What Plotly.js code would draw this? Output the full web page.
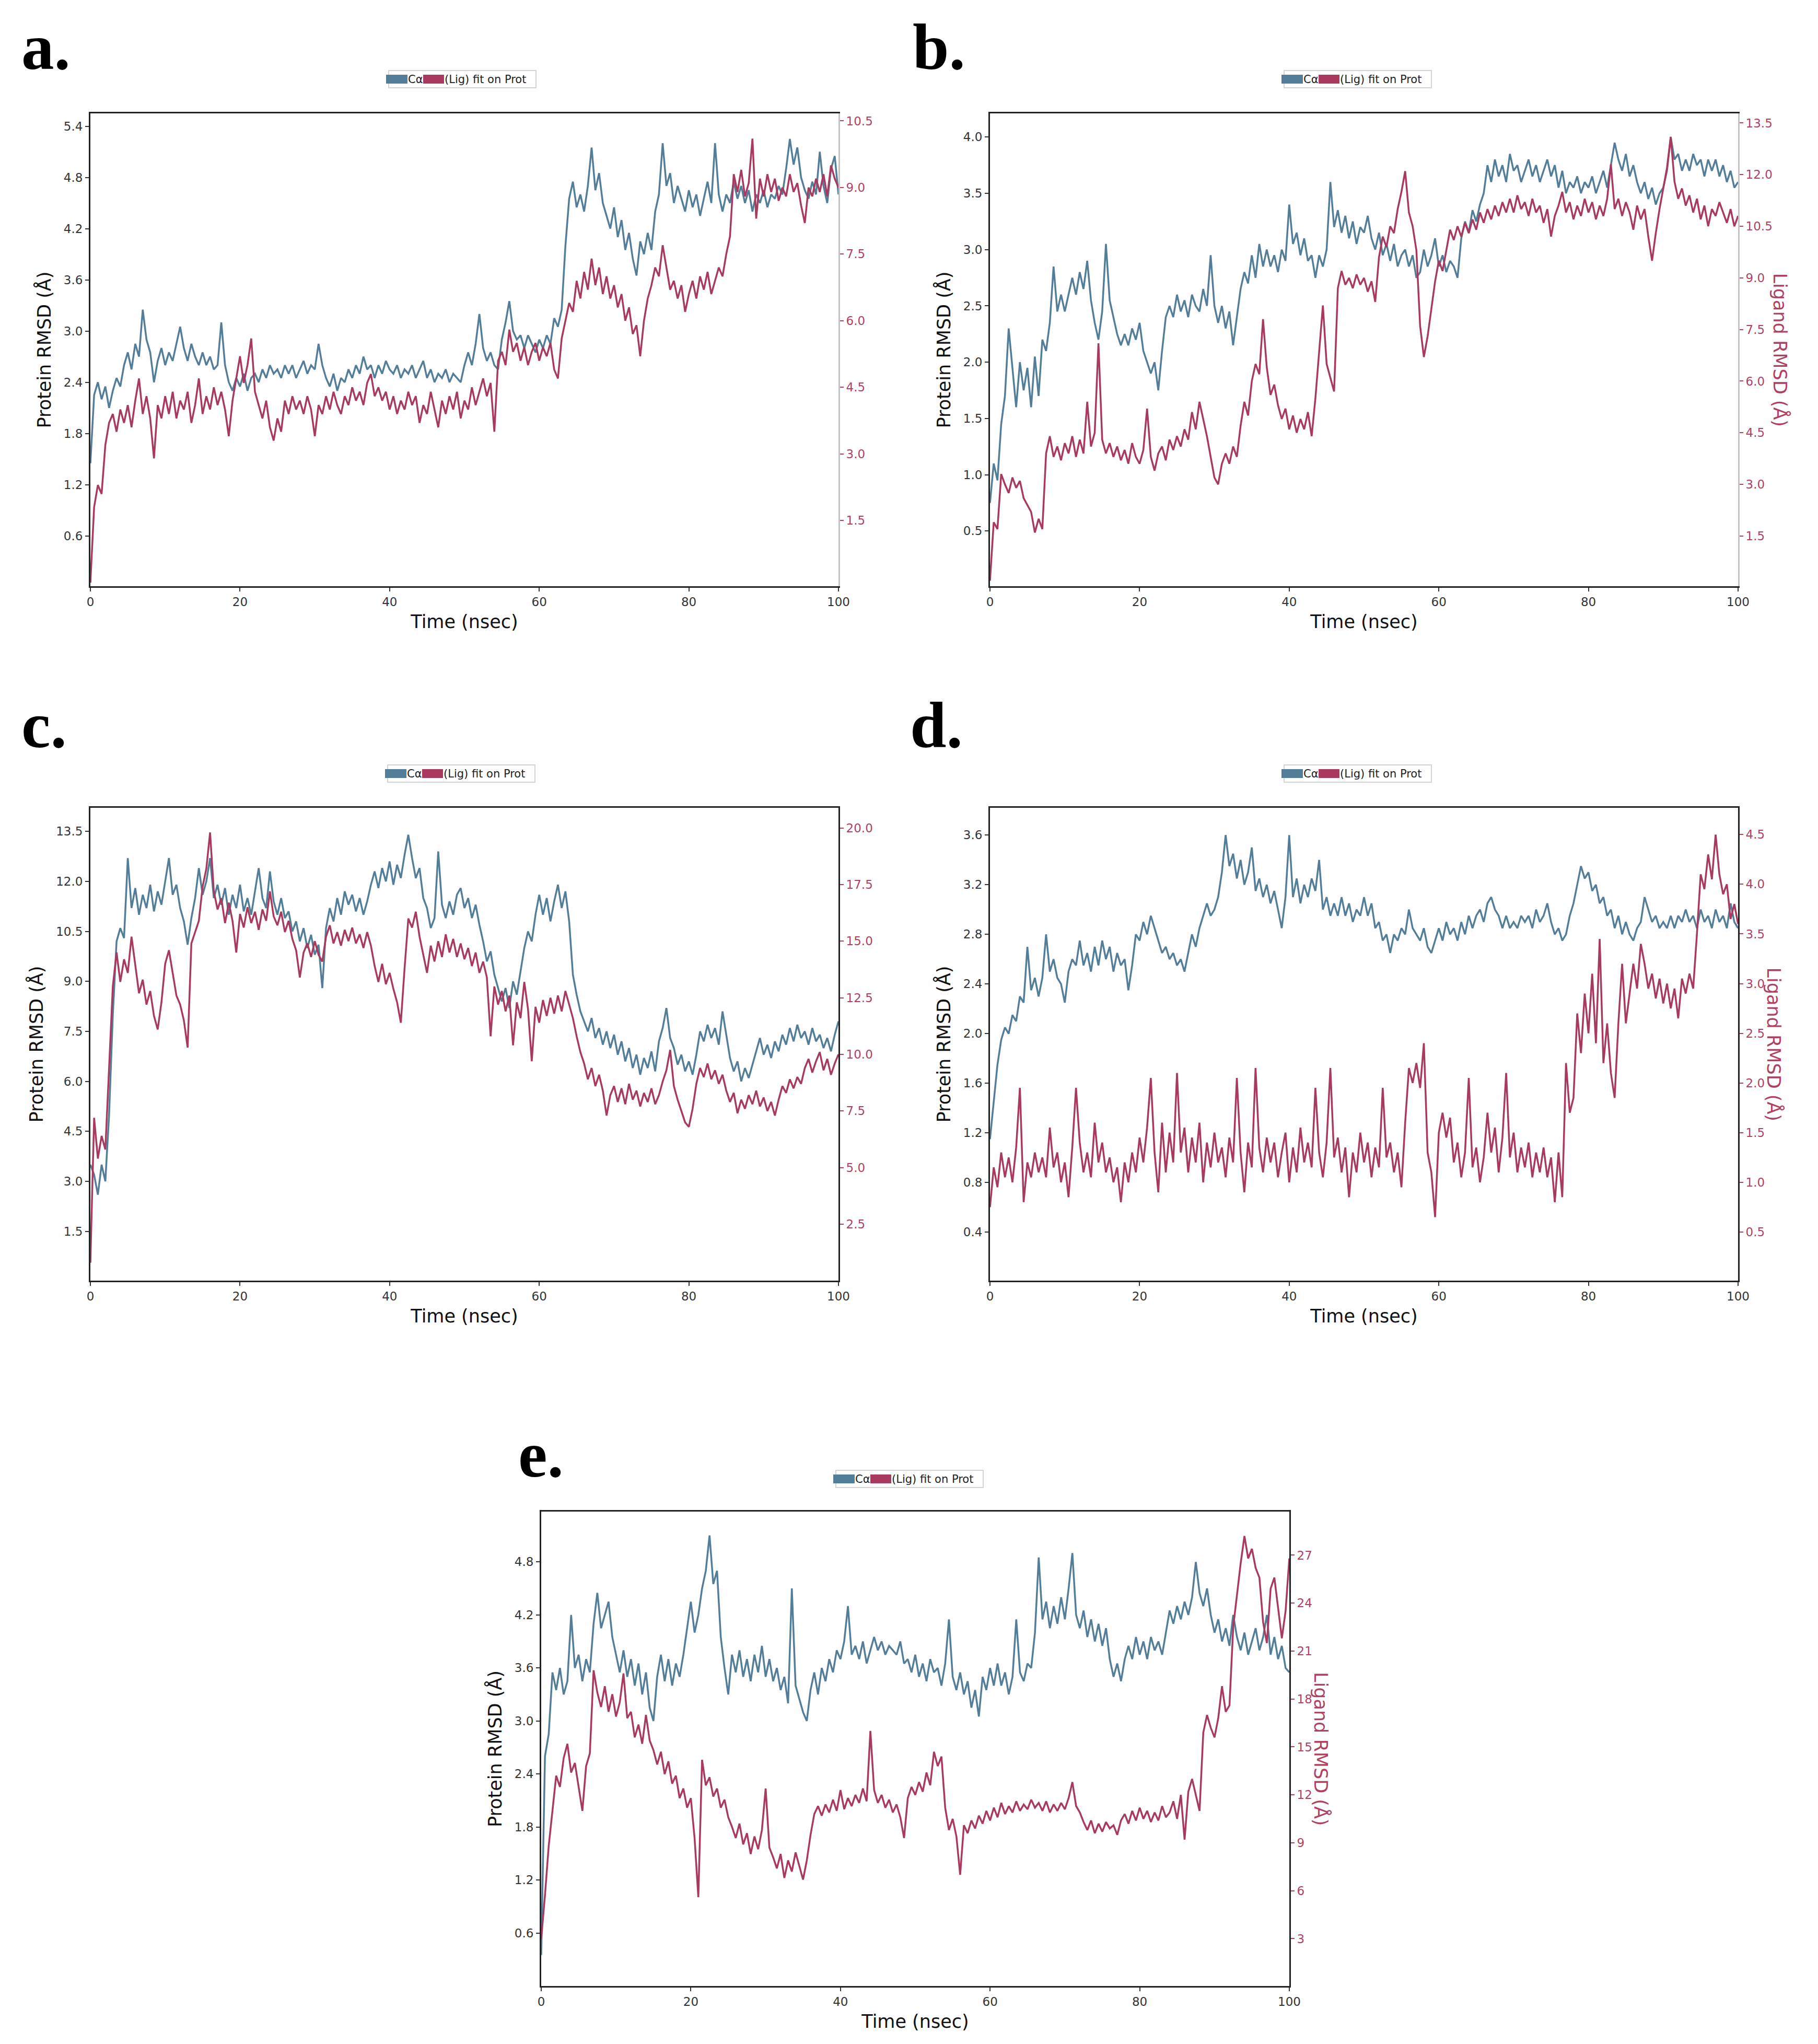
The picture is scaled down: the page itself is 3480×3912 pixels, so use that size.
<!DOCTYPE html>
<html>
<head>
<meta charset="utf-8">
<script src="https://cdn.plot.ly/plotly-3.0.1.min.js"></script>
<style>html,body{margin:0;padding:0;background:#fff;}#chart{width:3480px;height:3912px;}</style>
</head>
<body>
<div id="chart"></div>
<script>
// ---------------- DATA (RMSD vs time; samples every 0.5 ns from 0 to 100 ns) ----------------
const T0 = 0;      // first time sample (nsec)
const DT = 0.5;    // sampling step (nsec)

const seriesNames = ["Cα", "(Lig) fit on Prot"];
const timeTicks = [0, 20, 40, 60, 80, 100];

// Panel a
const protA = [
1.45,2.25,2.4,2.2,2.35,2.1,2.3,2.45,2.35,2.6,
2.75,2.55,2.85,2.7,3.25,2.9,2.75,2.4,2.65,2.8,
2.6,2.75,2.65,2.85,3.05,2.8,2.65,2.85,2.7,2.6,
2.75,2.6,2.7,2.55,2.6,3.1,2.6,2.4,2.3,2.45,
2.35,2.5,2.3,2.45,2.5,2.4,2.55,2.45,2.6,2.5,
2.55,2.45,2.6,2.5,2.6,2.45,2.55,2.65,2.5,2.6,
2.55,2.85,2.6,2.45,2.35,2.5,2.3,2.45,2.4,2.55,
2.45,2.6,2.5,2.7,2.55,2.6,2.45,2.6,2.5,2.65,
2.55,2.5,2.6,2.45,2.55,2.5,2.6,2.45,2.55,2.65,
2.45,2.55,2.4,2.5,2.45,2.55,2.4,2.5,2.45,2.4,
2.6,2.75,2.6,2.85,3.2,2.8,2.65,2.75,2.6,2.55,
2.9,3.1,3.35,3.0,2.9,2.95,2.8,2.95,2.85,2.75,
2.9,2.8,2.95,2.85,3.15,3.05,3.25,4.0,4.55,4.75,
4.45,4.6,4.4,4.7,5.15,4.65,4.85,4.5,4.35,4.2,
4.45,4.1,4.3,3.95,4.15,3.85,3.65,4.05,3.9,4.15,
3.95,4.4,4.6,5.2,4.7,4.85,4.5,4.7,4.55,4.4,
4.65,4.45,4.6,4.35,4.55,4.75,4.5,5.2,4.6,4.4,
4.6,4.5,4.75,4.55,4.7,4.5,4.65,4.4,4.6,4.5,
4.65,4.45,4.6,4.55,4.7,4.6,4.9,5.25,4.95,5.15,
4.8,4.65,4.55,4.75,4.6,5.1,4.7,4.5,4.9,5.05,
4.6];
const ligA = [
0.1,1.8,2.3,2.1,3.2,3.7,3.9,3.5,4.0,3.7,
4.1,3.6,4.2,4.7,3.9,4.3,3.8,2.9,4.1,3.8,
4.3,3.9,4.4,3.8,4.2,4.0,4.4,3.7,4.1,4.7,
3.9,4.3,4.0,4.5,4.1,4.4,4.0,3.4,4.2,4.7,
5.2,4.6,5.0,5.6,4.4,4.1,3.8,4.2,3.6,3.3,
3.8,3.5,4.2,3.9,4.3,4.0,4.2,3.9,4.3,4.0,
3.4,4.1,3.9,4.3,4.0,4.4,4.1,3.9,4.3,4.1,
4.5,4.2,4.4,4.1,4.6,4.8,4.3,4.5,4.2,4.4,
4.0,4.3,3.9,4.2,4.0,4.4,4.1,4.3,3.7,4.1,
3.9,4.4,4.0,3.6,4.2,3.9,4.3,4.0,4.4,3.8,
4.2,4.0,4.5,4.1,4.4,4.7,4.3,4.6,3.5,5.1,
5.3,5.0,5.8,5.3,5.5,5.1,5.4,5.0,5.3,5.5,
5.1,5.4,5.2,5.5,4.9,4.7,5.6,6.0,6.4,6.2,
6.9,6.5,7.1,6.7,7.4,6.8,7.2,6.6,7.0,6.5,
6.8,6.3,6.6,6.0,6.3,5.7,5.9,5.2,6.0,6.5,
6.8,7.2,7.0,7.7,7.2,6.7,6.9,6.5,6.8,6.2,
6.6,6.9,6.5,7.0,6.7,7.1,6.6,6.9,7.2,7.0,
7.5,7.9,9.3,8.9,9.4,8.8,9.1,10.1,8.3,9.2,
8.8,9.3,8.9,9.2,8.7,9.0,8.8,9.3,8.9,9.1,
8.6,8.2,9.0,8.8,9.2,8.9,9.3,8.8,9.5,9.2,
9.0];

// Panel b
const protB = [
0.75,1.1,0.95,1.45,1.7,2.3,1.95,1.6,2.0,1.75,
1.95,1.6,2.05,1.7,2.2,2.1,2.35,2.85,2.45,2.6,
2.45,2.6,2.75,2.6,2.8,2.65,2.9,2.55,2.35,2.2,
2.45,3.05,2.55,2.4,2.25,2.15,2.25,2.15,2.3,2.2,
2.35,2.1,2.0,1.9,2.0,1.75,2.1,2.4,2.5,2.4,
2.6,2.45,2.55,2.4,2.6,2.5,2.45,2.65,2.5,2.95,
2.5,2.35,2.5,2.3,2.45,2.15,2.4,2.65,2.8,2.7,
2.95,2.75,3.05,2.85,3.0,2.85,2.95,2.8,3.0,2.9,
3.4,3.05,3.15,2.95,3.1,2.9,2.95,2.75,2.95,2.85,
3.0,3.6,3.2,3.35,3.15,3.3,3.1,3.25,3.05,3.2,
3.15,3.3,3.1,3.0,3.15,2.95,3.05,2.9,3.05,2.85,
2.95,3.0,2.85,2.95,2.75,2.8,3.0,2.85,2.95,3.1,
2.85,2.95,2.8,2.9,2.85,2.75,3.1,3.25,3.15,3.35,
3.25,3.4,3.5,3.75,3.6,3.8,3.65,3.75,3.6,3.85,
3.7,3.75,3.6,3.7,3.8,3.65,3.75,3.6,3.7,3.8,
3.65,3.75,3.55,3.7,3.5,3.6,3.55,3.65,3.5,3.6,
3.55,3.65,3.5,3.6,3.7,3.55,3.75,3.95,3.8,3.7,
3.85,3.65,3.75,3.6,3.5,3.6,3.45,3.55,3.4,3.5,
3.55,3.7,4.0,3.8,3.85,3.7,3.8,3.7,3.85,3.75,
3.8,3.65,3.8,3.7,3.8,3.65,3.75,3.6,3.7,3.55,
3.6];
const ligB = [
0.2,1.9,1.7,3.3,3.0,2.75,3.2,2.9,3.1,2.6,
2.4,2.2,1.6,2.0,1.7,3.9,4.4,3.8,4.1,3.7,
4.2,3.9,4.4,3.8,4.3,3.9,5.4,4.1,4.5,7.1,
4.3,3.9,4.2,3.8,4.1,3.7,4.0,3.6,4.2,3.8,
3.6,4.0,5.2,3.8,3.4,3.9,4.1,3.7,4.3,4.0,
4.4,4.1,4.6,4.3,5.1,4.6,5.4,4.9,4.4,3.8,
3.2,3.0,3.6,3.9,3.6,4.1,3.8,4.7,5.4,5.0,
6.0,6.5,6.2,7.8,6.4,5.6,5.9,5.3,4.9,5.2,
4.6,5.0,4.5,4.9,4.6,5.1,4.4,5.5,6.9,8.2,
6.5,6.1,5.7,8.7,9.2,8.8,9.0,8.7,9.1,8.8,
9.0,8.6,8.9,8.3,9.6,10.2,9.9,10.5,10.3,11.0,
11.5,12.1,10.9,10.5,9.8,7.6,6.7,7.3,8.1,8.9,
9.5,9.2,9.8,10.4,10.1,10.5,10.2,10.6,10.3,10.7,
10.4,10.9,10.6,11.0,10.7,11.1,10.8,11.2,10.9,11.3,
10.9,11.4,11.0,11.2,10.8,11.3,10.9,11.1,10.6,11.0,
10.2,10.8,11.1,11.5,10.9,11.2,10.7,11.1,10.8,11.3,
10.9,11.2,10.7,11.1,10.8,11.3,12.3,11.0,11.3,10.8,
11.2,10.9,10.4,11.1,10.7,11.0,10.2,9.5,10.3,11.0,
11.6,12.2,13.1,11.8,11.3,11.6,11.1,11.4,10.9,11.3,
10.7,11.1,10.5,11.0,10.8,11.2,10.9,10.6,11.0,10.5,
10.8];

// Panel c
const protC = [
3.5,3.2,2.6,3.5,3.0,5.0,8.0,10.2,10.6,10.3,
12.7,11.2,11.8,11.0,11.6,11.2,11.9,11.1,11.7,11.3,
12.0,12.7,11.6,11.9,11.2,10.8,10.1,10.9,11.5,12.4,
11.6,12.0,12.7,11.5,11.9,11.3,11.8,11.0,11.6,11.2,
11.9,11.1,11.5,11.0,11.7,12.4,11.5,11.2,12.3,11.4,
11.0,11.5,10.9,11.1,10.5,10.8,10.2,10.6,10.0,10.4,
9.8,10.1,8.8,10.6,11.2,10.8,11.5,11.0,11.7,11.3,
11.6,11.1,11.5,11.0,11.4,11.9,12.3,11.8,12.4,12.0,
12.6,11.9,12.5,12.1,12.8,13.4,12.7,12.1,12.4,11.5,
11.2,10.6,10.9,12.9,11.3,10.9,11.4,11.0,11.6,11.8,
11.2,11.5,10.9,11.3,10.7,10.2,9.6,9.9,9.2,8.8,
8.4,8.8,8.2,9.0,8.6,9.3,10.0,10.5,10.2,11.0,
11.6,11.0,11.5,10.8,11.4,11.9,11.2,11.7,10.8,9.2,
8.6,8.1,7.8,7.5,7.9,7.3,7.6,7.1,7.5,7.0,
7.4,6.8,7.2,6.6,7.0,6.4,6.8,6.2,6.7,6.4,
6.9,6.3,7.2,7.6,8.2,7.3,7.0,6.5,6.8,6.3,
6.6,6.2,6.8,7.5,7.2,7.7,7.3,7.6,7.1,8.1,
7.4,6.7,6.3,6.6,6.0,6.4,6.1,6.5,6.9,7.3,
6.8,7.1,6.7,7.2,6.9,7.4,7.1,7.6,7.2,7.7,
7.3,7.5,7.1,7.6,7.2,7.4,7.0,7.3,6.9,7.4,
7.8];
const ligC = [
0.8,7.2,5.4,6.4,5.8,9.5,13.0,14.5,13.2,14.2,
13.6,15.2,14.0,12.7,13.3,12.2,12.8,11.7,11.1,12.3,
14.0,14.6,13.6,12.6,12.2,11.5,10.3,14.9,15.4,15.9,
17.4,18.2,19.8,17.2,16.4,16.9,15.8,16.7,15.9,14.5,
16.2,15.6,16.5,15.8,16.3,15.5,16.4,15.9,17.2,16.1,
15.7,16.3,15.4,15.9,15.1,14.6,13.4,14.5,14.9,14.3,
15.0,14.4,14.1,15.2,15.7,14.9,15.4,14.8,15.5,15.0,
15.6,14.9,15.3,14.7,15.4,14.8,13.9,13.2,14.0,13.1,
13.6,12.9,12.3,11.4,13.8,16.0,15.6,16.3,15.2,14.4,
13.6,14.8,14.1,15.0,14.3,15.3,14.5,15.1,14.3,14.9,
14.2,14.7,13.9,14.5,13.6,14.1,13.4,10.8,13.0,12.2,
12.8,11.9,12.6,10.4,12.3,11.6,13.2,12.0,9.7,12.1,
11.4,12.4,11.7,12.5,11.8,12.6,11.9,12.8,12.2,11.6,
10.8,10.1,9.6,8.9,9.4,8.6,9.1,8.4,7.3,8.2,
8.6,7.9,8.5,7.8,8.7,8.0,8.4,7.7,8.3,7.9,
8.5,7.8,8.2,8.8,9.3,10.2,8.6,8.0,7.5,7.0,
6.8,7.6,8.7,9.4,9.0,9.6,8.9,9.3,8.7,9.1,
8.4,7.9,8.3,7.4,8.0,7.6,8.2,7.8,8.4,7.7,
8.1,7.5,7.9,7.3,8.0,8.6,8.3,8.9,8.5,9.0,
8.7,9.4,9.8,9.2,9.7,10.1,9.3,9.8,9.1,9.6,
10.0];

// Panel d
const protD = [
1.15,1.45,1.75,1.95,2.05,2.0,2.15,2.1,2.3,2.25,
2.7,2.35,2.45,2.3,2.45,2.8,2.5,2.6,2.45,2.4,
2.25,2.5,2.6,2.55,2.75,2.55,2.65,2.5,2.7,2.55,
2.75,2.6,2.7,2.5,2.65,2.55,2.6,2.35,2.55,2.8,
2.75,2.9,2.8,2.95,2.85,2.75,2.65,2.7,2.6,2.65,
2.55,2.6,2.5,2.65,2.8,2.7,2.85,2.95,3.05,2.95,
3.0,3.1,3.3,3.6,3.35,3.45,3.25,3.4,3.2,3.3,
3.5,3.15,3.25,3.1,3.2,3.05,3.15,3.0,2.85,3.1,
3.6,3.1,3.25,3.05,3.2,3.1,3.25,3.15,3.4,3.0,
3.1,2.95,3.05,2.95,3.1,2.95,3.05,2.9,3.0,2.95,
3.1,2.95,3.05,2.85,2.9,2.75,2.8,2.65,2.8,2.75,
2.85,2.8,3.0,2.85,2.8,2.75,2.85,2.7,2.65,2.75,
2.85,2.75,2.9,2.8,2.85,2.75,2.9,2.8,2.95,2.85,
2.95,3.0,2.9,3.05,3.1,3.0,2.95,2.85,2.95,2.85,
2.9,2.85,2.95,2.9,2.95,2.85,3.0,2.9,2.95,3.05,
2.9,2.8,2.85,2.75,2.8,2.95,3.05,3.2,3.35,3.25,
3.3,3.15,3.2,3.05,3.1,2.95,3.0,2.85,2.95,2.8,
2.9,2.8,2.75,2.85,2.9,3.1,3.0,2.9,2.95,2.85,
2.9,2.85,2.95,2.85,2.95,2.9,3.0,2.9,2.95,2.85,
3.0,2.9,2.95,2.85,3.0,2.9,2.95,2.85,3.05,2.9,
2.85];
const ligD = [
0.75,1.15,0.95,1.3,1.05,1.25,1.0,1.35,1.95,0.8,
1.2,1.05,1.3,1.1,1.25,1.05,1.55,1.15,1.3,1.0,
1.2,0.85,1.35,1.95,1.4,1.1,1.3,1.05,1.6,1.2,
1.4,1.1,1.25,1.0,1.15,0.8,1.2,1.0,1.3,1.1,
1.45,1.2,1.55,2.05,1.3,0.9,1.6,1.1,1.5,1.2,
2.1,1.3,1.55,1.1,1.45,1.2,1.6,1.0,1.4,1.15,
1.5,1.2,1.35,1.05,1.45,1.2,2.05,1.3,0.9,1.4,
1.15,2.15,1.35,1.1,1.45,1.2,1.4,1.05,1.3,1.5,
1.0,1.35,1.1,1.55,1.2,1.4,1.15,1.95,1.3,1.05,
1.4,2.15,1.25,1.45,1.1,1.35,0.85,1.3,1.1,1.5,
1.2,1.4,1.05,1.35,1.15,1.95,1.25,1.4,1.1,1.3,
0.95,1.6,2.15,2.0,2.2,1.95,2.4,1.3,1.1,0.65,
1.5,1.7,1.45,1.65,1.2,1.4,1.05,1.3,2.05,1.15,
1.35,1.0,1.25,1.7,1.3,1.55,1.1,1.45,2.1,1.25,
1.5,1.1,1.35,1.15,1.4,1.05,1.3,1.1,1.35,1.05,
1.25,0.8,1.3,0.85,2.2,1.7,1.85,2.7,2.3,2.9,
2.5,3.1,2.4,3.45,2.2,2.6,2.1,1.85,2.6,3.2,
2.6,2.9,3.2,2.95,3.4,3.2,2.95,3.1,2.85,3.05,
2.8,3.0,2.75,2.95,2.65,3.05,2.9,3.1,2.95,3.5,
4.1,3.95,4.3,4.05,4.5,4.1,3.9,4.0,3.65,3.8,
3.6];

// Panel e
const protE = [
0.35,2.6,2.85,3.55,3.35,3.6,3.3,3.45,4.2,3.6,
3.75,3.45,3.7,3.55,4.1,4.45,4.05,4.2,4.35,3.95,
3.75,3.55,3.8,3.5,3.7,3.4,3.65,3.3,3.55,3.15,
3.0,3.5,3.75,3.45,3.7,3.4,3.65,3.5,3.75,4.05,
4.35,4.0,4.2,4.5,4.7,5.1,4.55,4.7,3.95,3.6,
3.3,3.75,3.55,3.8,3.5,3.7,3.45,3.75,3.55,3.85,
3.5,3.7,3.45,3.6,3.35,3.5,3.2,4.5,3.4,3.25,
3.1,3.0,3.35,3.55,3.3,3.6,3.45,3.7,3.55,3.8,
3.7,3.9,4.3,3.75,3.85,3.7,3.9,3.65,3.8,3.95,
3.8,3.9,3.75,3.85,3.8,3.75,3.9,3.65,3.7,3.55,
3.75,3.5,3.65,3.45,3.7,3.55,3.6,3.4,3.65,4.15,
3.5,3.35,3.55,3.3,3.45,3.15,3.35,3.05,3.5,3.35,
3.6,3.4,3.65,3.4,3.55,3.3,3.5,4.15,3.55,3.45,
3.65,3.6,4.0,4.85,4.15,4.35,4.05,4.3,4.1,4.4,
4.15,4.5,4.9,4.2,4.05,4.25,3.95,4.15,3.9,4.1,
3.85,4.05,3.7,3.5,3.65,3.45,3.7,3.85,3.7,3.95,
3.75,3.9,3.7,3.95,3.8,3.9,3.75,4.0,4.25,4.1,
4.3,4.15,4.35,4.2,4.4,4.8,4.45,4.3,4.5,4.2,
4.0,4.15,3.9,4.05,3.85,4.2,3.95,3.8,4.0,3.75,
3.9,4.05,3.8,3.95,4.2,3.75,3.95,3.7,3.85,3.6,
3.55];
const ligE = [
3.0,5.7,8.8,11.0,13.2,12.5,14.3,15.2,13.4,14.0,
12.5,11.0,13.8,14.6,19.8,18.4,17.5,18.8,17.2,18.3,
16.9,17.8,19.6,16.8,17.2,15.6,16.4,15.2,17.0,15.4,
14.8,13.9,14.7,13.3,14.1,12.7,13.2,11.8,12.4,11.2,
11.8,9.3,5.6,14.2,12.6,13.1,11.9,12.4,11.2,11.7,
10.6,10.0,9.3,10.2,8.9,9.6,8.3,9.4,8.6,9.8,
12.4,8.7,8.1,7.4,8.3,6.8,7.9,7.2,8.4,7.6,
6.7,7.9,9.5,10.8,11.3,10.7,11.4,10.9,11.7,11.0,
12.3,11.1,11.8,11.3,12.0,11.5,12.4,11.6,16.0,12.3,
11.5,12.0,11.2,11.7,10.9,11.4,10.6,9.3,11.8,12.5,
12.0,12.8,12.2,13.4,12.6,14.7,13.8,14.4,11.2,9.8,
10.5,9.4,7.0,10.1,9.6,10.4,9.9,10.7,10.2,11.0,
10.4,11.2,10.6,11.5,10.8,11.3,10.9,11.6,11.0,11.4,
11.1,11.7,11.2,11.5,11.0,11.6,10.9,11.4,11.0,11.5,
11.1,11.8,12.8,11.3,10.9,10.3,9.8,10.4,9.6,10.2,
9.7,10.3,9.9,10.1,9.5,10.4,10.8,10.2,11.0,10.4,
11.2,10.5,11.0,10.3,10.9,10.4,11.3,10.6,10.9,11.6,
10.5,12.0,9.2,12.2,13.0,12.0,11.0,15.9,17.0,16.2,
15.6,16.8,18.8,17.2,17.6,22.5,24.5,26.5,28.2,26.8,
27.4,26.2,25.6,22.8,21.5,24.9,25.6,23.8,21.8,23.5,
26.8];

// Tick values
const ticksAProt = [0.6,1.2,1.8,2.4,3.0,3.6,4.2,4.8,5.4];
const ticksALig  = [1.5,3.0,4.5,6.0,7.5,9.0,10.5];
const ticksBProt = [0.5,1.0,1.5,2.0,2.5,3.0,3.5,4.0];
const ticksBLig  = [1.5,3.0,4.5,6.0,7.5,9.0,10.5,12.0,13.5];
const ticksCProt = [1.5,3.0,4.5,6.0,7.5,9.0,10.5,12.0,13.5];
const ticksCLig  = [2.5,5.0,7.5,10.0,12.5,15.0,17.5,20.0];
const ticksDProt = [0.4,0.8,1.2,1.6,2.0,2.4,2.8,3.2,3.6];
const ticksDLig  = [0.5,1.0,1.5,2.0,2.5,3.0,3.5,4.0,4.5];
const ticksEProt = [0.6,1.2,1.8,2.4,3.0,3.6,4.2,4.8];
const ticksELig  = [3,6,9,12,15,18,21,24,27];

// ---------------- STYLE / LAYOUT ----------------
const W = 3480, H = 3912;
const fx = px => px / W;
const fy = px => 1 - px / H;
const BLUE = '#527e99', RED = '#a83a60', RED_TXT = '#b0405f';
const FONT = 'DejaVu Sans, Liberation Sans, sans-serif';

const panels = [
  {letter:'a.', prot:protA, lig:ligA, box:[173,1605,217,1122], lr:[0.01,5.55], rr:[0.02,10.67],
   lt:ticksAProt, rt:ticksALig, rfmt:'.1f', rline:'#c4c4c4', rtitle:null, leg:[744,135], lpos:[39,90]},
  {letter:'b.', prot:protB, lig:ligB, box:[1895,3327,217,1122], lr:[0.01,4.21], rr:[0.04,13.78],
   lt:ticksBProt, rt:ticksBLig, rfmt:'.1f', rline:'#c4c4c4', rtitle:3407, leg:[2458,135], lpos:[1745,90]},
  {letter:'c.', prot:protC, lig:ligC, box:[173,1605,1546,2451], lr:[0.02,14.21], rr:[0.01,20.89],
   lt:ticksCProt, rt:ticksCLig, rfmt:'.1f', rline:'#222222', rtitle:null, leg:[742,1464], lpos:[39,1388]},
  {letter:'d.', prot:protD, lig:ligD, box:[1895,3327,1546,2451], lr:[0.01,3.82], rr:[0.01,4.77],
   lt:ticksDProt, rt:ticksDLig, rfmt:'.1f', rline:'#222222', rtitle:3396, leg:[2458,1464], lpos:[1740,1388]},
  {letter:'e.', prot:protE, lig:ligE, box:[1036,2468,2893,3801], lr:[0.0,5.37], rr:[0.04,29.73],
   lt:ticksEProt, rt:ticksELig, rfmt:'d', rline:'#222222', rtitle:2529, leg:[1600,2814], lpos:[990,2784]}
];

const LEG_W = 282, LEG_H = 33;

const traces = [];
const layout = {
  width: W, height: H,
  margin: {l:0, r:0, t:0, b:0},
  paper_bgcolor: '#ffffff', plot_bgcolor: '#ffffff',
  font: {family: FONT, color: '#222'},
  annotations: [],
  shapes: [],
  showlegend: false
};

panels.forEach((p, i) => {
  const n = i + 1;
  const xa = n === 1 ? 'x' : 'x' + n;
  const yl = 'y' + (2 * n - 1 === 1 ? '' : (2 * n - 1));
  const yr = 'y' + (2 * n);

  traces.push({
    type: 'scatter', mode: 'lines', name: seriesNames[0],
    x0: T0, dx: DT, y: p.prot, xaxis: xa, yaxis: yl,
    line: {color: BLUE, width: 3.5}, hoverinfo: 'skip'
  });
  traces.push({
    type: 'scatter', mode: 'lines', name: seriesNames[1],
    x0: T0, dx: DT, y: p.lig, xaxis: xa, yaxis: yr,
    line: {color: RED, width: 3.5}, hoverinfo: 'skip'
  });

  const [x0, x1, y0, y1] = p.box;
  const xKey = n === 1 ? 'xaxis' : 'xaxis' + n;
  const ylKey = 'yaxis' + (2 * n - 1 === 1 ? '' : (2 * n - 1));
  const yrKey = 'yaxis' + (2 * n);

  layout[xKey] = {
    domain: [fx(x0), fx(x1)], anchor: yl, range: [0, 100],
    tickmode: 'array', tickvals: timeTicks, tickformat: 'd',
    ticks: 'outside', ticklen: 7, tickwidth: 2, tickcolor: '#333',
    tickfont: {family: FONT, size: 23, color: '#333'},
    showline: true, linecolor: '#222', linewidth: 3, mirror: true,
    showgrid: false, zeroline: false,
    title: {text: 'Time (nsec)', font: {family: FONT, size: 35, color: '#111'}, standoff: 14}
  };
  layout[ylKey] = {
    domain: [fy(y1), fy(y0)], anchor: xa, range: p.lr,
    tickmode: 'array', tickvals: p.lt, tickformat: '.1f',
    ticks: 'outside', ticklen: 7, tickwidth: 2, tickcolor: '#333',
    tickfont: {family: FONT, size: 23, color: '#333'},
    showline: true, linecolor: '#222', linewidth: 3, mirror: false,
    showgrid: false, zeroline: false,
    title: {text: 'Protein RMSD (Å)', font: {family: FONT, size: 35, color: '#111'}, standoff: 14}
  };
  layout[yrKey] = {
    overlaying: yl, side: 'right', anchor: xa, range: p.rr,
    tickmode: 'array', tickvals: p.rt, tickformat: p.rfmt,
    ticks: 'outside', ticklen: 7, tickwidth: 2, tickcolor: RED_TXT,
    tickfont: {family: FONT, size: 23, color: RED_TXT},
    showline: true, linecolor: p.rline, linewidth: 3,
    showgrid: false, zeroline: false
  };

  // Legend box (matplotlib-style: patch swatches)
  const L = p.leg[0], T = p.leg[1];
  layout.shapes.push({type:'rect', xref:'paper', yref:'paper', layer:'above',
    x0: fx(L), x1: fx(L + LEG_W), y0: fy(T + LEG_H), y1: fy(T),
    line: {color: '#d4d4d4', width: 2}, fillcolor: '#ffffff'});
  layout.shapes.push({type:'rect', xref:'paper', yref:'paper', layer:'above',
    x0: fx(L - 5), x1: fx(L + 36), y0: fy(T + 25), y1: fy(T + 8),
    line: {width: 0}, fillcolor: BLUE});
  layout.annotations.push({text: seriesNames[0], xref:'paper', yref:'paper',
    x: fx(L + 35), y: fy(T + 17), xanchor:'left', yanchor:'middle', showarrow:false,
    font: {family: FONT, size: 21, color: '#222'}});
  layout.shapes.push({type:'rect', xref:'paper', yref:'paper', layer:'above',
    x0: fx(L + 66), x1: fx(L + 106), y0: fy(T + 25), y1: fy(T + 8),
    line: {width: 0}, fillcolor: RED});
  layout.annotations.push({text: seriesNames[1], xref:'paper', yref:'paper',
    x: fx(L + 105), y: fy(T + 17), xanchor:'left', yanchor:'middle', showarrow:false,
    font: {family: FONT, size: 21, color: '#222'}});

  layout.annotations.push({
    text: '<b>' + p.letter + '</b>', xref: 'paper', yref: 'paper',
    x: fx(p.lpos[0]), y: fy(p.lpos[1]), xanchor: 'left', yanchor: 'middle',
    showarrow: false, font: {family: 'Liberation Serif, Times New Roman, serif', size: 125, color: '#000'}
  });
  if (p.rtitle !== null) {
    layout.annotations.push({
      text: 'Ligand RMSD (Å)', xref: 'paper', yref: 'paper',
      x: fx(p.rtitle), y: fy((y0 + y1) / 2), xanchor: 'center', yanchor: 'middle',
      textangle: 90, showarrow: false,
      font: {family: FONT, size: 35, color: RED_TXT}
    });
  }
});

Plotly.newPlot('chart', traces, layout, {displayModeBar: false, staticPlot: true});
</script>
</body>
</html>
